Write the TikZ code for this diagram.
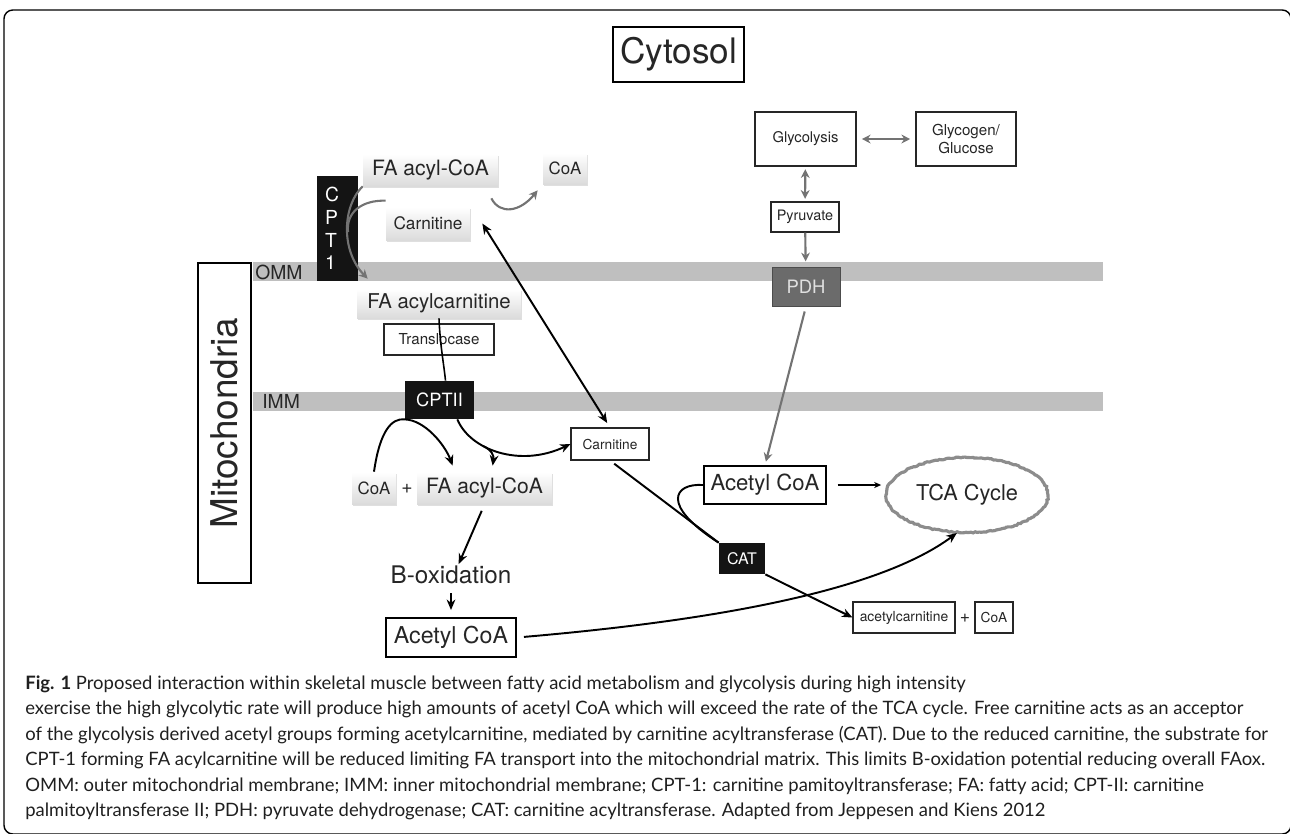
\documentclass[tikz,border=0pt]{standalone}
\usepackage{fontspec}
\setmainfont{TeX Gyre Heros}
\newfontfamily\capfont{Lato}
\usepackage{tikz}
\usetikzlibrary{shapes.geometric,arrows.meta,shadows,decorations.pathmorphing}
\newcommand{\fsz}[2]{\fontsize{#1}{#2}\selectfont}

\begin{document}
\begin{tikzpicture}[x=0.02cm,y=-0.02cm,
  every node/.style={inner sep=0pt, text=black!85},
  whitebox/.style={draw=black!85, line width=0.6pt, fill=white},
  thickbox/.style={draw=black, line width=1.1pt, fill=white},
  softbox/.style={top color=white, bottom color=black!14, drop shadow={shadow xshift=0.5pt, shadow yshift=-1pt, opacity=0.25}},
  enzyme/.style={fill=black!92, text=white},
  membrane/.style={fill=black!25},
  capline/.style={anchor=base west, text=black!88, font=\capfont\fsz{10.5}{12.8}},
  tip/.style={-{Stealth[length=6pt,width=5pt]}},
  grayarrow/.style={draw=black!55, line width=1.2pt, -{Stealth[length=5pt,width=5pt]}},
  grayboth/.style={draw=black!55, line width=1.2pt, {Stealth[length=5pt,width=5pt]}-{Stealth[length=5pt,width=5pt]}},
  blackarrow/.style={line width=1.1pt, tip},
  blackline/.style={line width=1.1pt}
]
\useasboundingbox (0,0) rectangle (1290,833);
\clip (0,0) rectangle (1290,833);
\draw[line width=0.8pt, rounded corners=5pt] (4,10) rectangle (1291,834);

\fill[membrane] (253,262) rectangle (1103,281);
\fill[membrane] (253,392) rectangle (1103,411);
\node[anchor=west, font=\fsz{11}{13}] (omm) at (255,272) {OMM};
\node[anchor=west, font=\fsz{11}{13}] (imm) at (262,401) {IMM};

\node[draw, line width=0.7pt, minimum width=2.62cm, minimum height=1.1cm, font=\fsz{20}{24}] (cytosol) at (678.5,54.5) {Cytosol};
\node[rotate=90, thickbox, minimum width=6.4cm, minimum height=1.06cm, font=\fsz{21}{24}] (mito) at (224.5,423) {Mitochondria};

\node[whitebox, minimum width=2.02cm, minimum height=1.08cm, font=\fsz{8.4}{10}] (glycolysis) at (805.5,139) {Glycolysis};
\node[whitebox, minimum width=2cm, minimum height=1.08cm, align=center, font=\fsz{8.6}{9.8}] (glycogen) at (966,139) {Glycogen/\\Glucose};
\node[whitebox, minimum width=1.36cm, minimum height=0.6cm, font=\fsz{8.2}{10}] (pyruvate) at (805,217) {Pyruvate};
\node[draw=black!70, fill=black!58, text=black!12, minimum width=1.36cm, minimum height=0.78cm, font=\fsz{10.5}{12}] (pdh) at (806,286.5) {PDH};
\node[thickbox, minimum width=2.44cm, minimum height=0.76cm, font=\fsz{12.6}{14}] (acetylR) at (765,485) {Acetyl CoA};
\node[ellipse, minimum width=3.28cm, minimum height=1.52cm, font=\fsz{12.4}{14}] (tca) at (967,495) {TCA Cycle};
\draw[draw=black!45, line width=1.8pt, decorate, decoration={random steps, segment length=1.2pt, amplitude=0.35pt}] (tca.center) ellipse [x radius=1.62cm, y radius=0.75cm];

\node[softbox, minimum width=2.7cm, minimum height=0.64cm, font=\fsz{12}{14}] (faTop) at (430.5,170) {FA acyl-CoA};
\node[softbox, minimum width=0.88cm, minimum height=0.62cm, font=\fsz{9.6}{11}] (coaTop) at (565,168.5) {CoA};
\node[softbox, minimum width=1.68cm, minimum height=0.66cm, font=\fsz{9.8}{11}] (carnTop) at (428,223.5) {Carnitine};
\node[enzyme, minimum width=0.82cm, minimum height=2.1cm, text width=0.5cm, align=left, font=\fsz{11}{13}] (cpt1) at (337.5,228.5) {C\\P\\T\\1};
\node[softbox, minimum width=3.28cm, minimum height=0.58cm, font=\fsz{11.6}{13}] (faCarn) at (439,303.5) {FA acylcarnitine};
\node[whitebox, minimum width=2.2cm, minimum height=0.62cm, font=\fsz{8.6}{10}] (transloc) at (439,339.5) {Translocase};
\node[enzyme, minimum width=1.38cm, minimum height=0.76cm, font=\fsz{10.4}{12}] (cpt2) at (439.5,400) {CPTII};
\node[softbox, minimum width=0.88cm, minimum height=0.64cm, font=\fsz{9.6}{11}] (coaLow) at (374,488) {CoA};
\node[font=\fsz{11}{12}] (plusA) at (407,489) {+};
\node[softbox, minimum width=2.7cm, minimum height=0.64cm, font=\fsz{12}{14}] (faLow) at (484.5,488) {FA acyl-CoA};
\node[whitebox, minimum width=1.56cm, minimum height=0.64cm, font=\fsz{7.8}{9}] (carnLow) at (610,444) {Carnitine};
\node[enzyme, minimum width=0.92cm, minimum height=0.62cm, font=\fsz{9.1}{11}] (cat) at (742,558.5) {CAT};
\node[whitebox, minimum width=2.04cm, minimum height=0.62cm, font=\fsz{7.9}{9}] (acetylcarn) at (904,617.5) {acetylcarnitine};
\node[font=\fsz{10}{12}] (plusB) at (965,618) {+};
\node[whitebox, minimum width=0.76cm, minimum height=0.62cm, font=\fsz{7.8}{9}] (coaRight) at (994,617.5) {CoA};
\node[font=\fsz{13.8}{16}] (boxid) at (451,575) {B-oxidation};
\node[thickbox, minimum width=2.6cm, minimum height=0.78cm, font=\fsz{13.2}{15}] (acetylB) at (451,637.5) {Acetyl CoA};

\coordinate (merge) at (348,232);
\coordinate (hook) at (483,446);

\draw[grayboth, shorten <=3pt, shorten >=3pt] (glycolysis) -- (glycogen);
\draw[grayboth, shorten <=1.5pt, shorten >=1.5pt] (glycolysis) -- (pyruvate);
\draw[grayarrow, shorten >=3pt] (pyruvate) -- (pdh);
\draw[grayarrow, shorten <=3pt, shorten >=2pt] (pdh.south) -- (acetylR.north);
\draw[line width=0.6pt, -{Stealth[length=4pt,width=3.5pt]}, shorten <=6pt, shorten >=2pt] (acetylR.east) -- (tca.west |- acetylR.east);
\draw[blackarrow, shorten <=4pt] (acetylB.east) .. controls (720,620) and (880,590) .. (tca.255);

\draw[grayarrow] (faTop.south west) .. controls (343,205) and (340,250) .. ([shift={(0.22cm,0.2cm)}]faCarn.north west);
\draw[draw=black!55, line width=1.2pt] ([yshift=0.12cm]carnTop.north west) .. controls (362,200) and (346,212) .. (merge);
\draw[grayarrow] ([shift={(-0.14cm,-0.24cm)}]faTop.south east) .. controls (500,215) and (520,212) .. ([shift={(-0.1cm,-0.12cm)}]coaTop.south west);

\draw[line width=1.1pt, {Stealth[length=6pt,width=5pt]}-{Stealth[length=6pt,width=5pt]}, shorten >=3pt] ([xshift=0.24cm]carnTop.east) -- (carnLow.north);
\draw[line width=0.9pt] (faCarn.south) .. controls (440,345) and (444,365) .. ([xshift=0.12cm]cpt2.north);

\draw[blackarrow] (coaLow.north) .. controls (380,430) and (392,418) .. (cpt2.south west) .. controls (425,420) and (445,445) .. ([shift={(0.72cm,0.12cm)}]faLow.north west);
\draw[blackarrow] ([xshift=-0.34cm]cpt2.south east) .. controls (470,450) and (520,468) .. (carnLow.west);
\draw[blackarrow] (hook) .. controls (492,450) and (494,456) .. ([shift={(1.52cm,0.12cm)}]faLow.north west);

\draw[blackline, shorten <=3pt] (carnLow.south) -- (cat.north west);
\draw[blackline] (acetylR.west) .. controls (674,483) and (660,505) .. (cat.north west);
\draw[blackarrow] (cat.south east) -- (acetylcarn.west);

\draw[blackarrow, shorten <=4pt, shorten >=1pt] (faLow.south) -- ([xshift=0.14cm]boxid.north);
\draw[line width=0.8pt, tip, shorten <=5pt, shorten >=4pt] (boxid) -- (acetylB);

\node[capline] (cap1) at (25,689) {\textbf{Fig. 1} Proposed interaction within skeletal muscle between fatty acid metabolism and glycolysis during high intensity};
\node[capline] (cap2) at (25,714.5) {exercise the high glycolytic rate will produce high amounts of acetyl CoA which will exceed the rate of the TCA cycle. Free carnitine acts as an acceptor};
\node[capline] (cap3) at (25,740) {of the glycolysis derived acetyl groups forming acetylcarnitine, mediated by carnitine acyltransferase (CAT). Due to the reduced carnitine, the substrate for};
\node[capline] (cap4) at (25,765.5) {CPT-1 forming FA acylcarnitine will be reduced limiting FA transport into the mitochondrial matrix. This limits B-oxidation potential reducing overall FAox.};
\node[capline] (cap5) at (25,791) {OMM: outer mitochondrial membrane; IMM: inner mitochondrial membrane; CPT-1: carnitine pamitoyltransferase; FA: fatty acid; CPT-II: carnitine};
\node[capline] (cap6) at (25,816.5) {palmitoyltransferase II; PDH: pyruvate dehydrogenase; CAT: carnitine acyltransferase. Adapted from Jeppesen and Kiens 2012};
\end{tikzpicture}
\end{document}
